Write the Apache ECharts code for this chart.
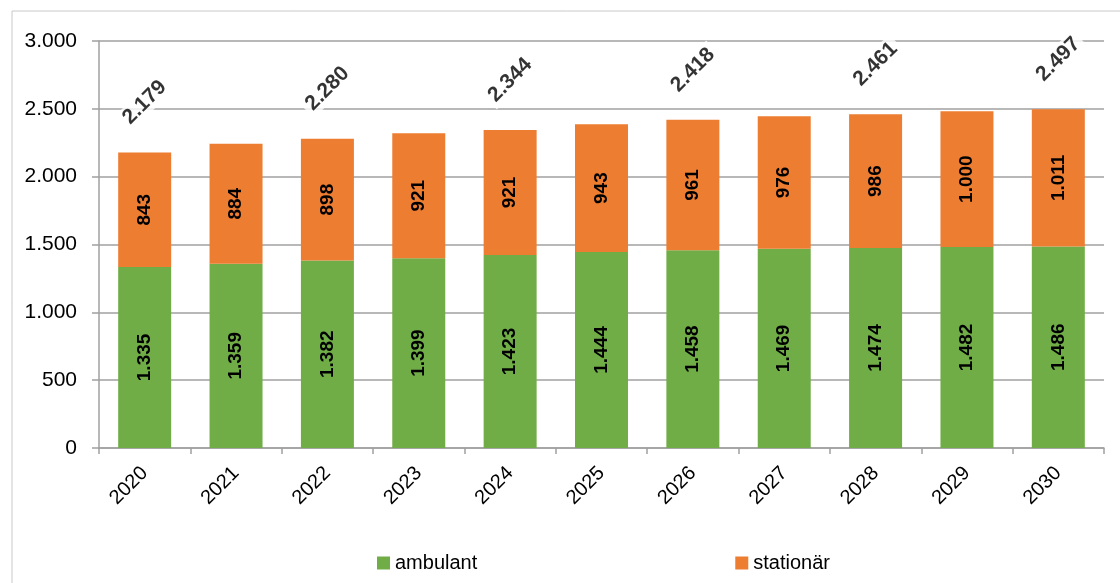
<!DOCTYPE html>
<html><head><meta charset="utf-8">
<script src="https://cdn.jsdelivr.net/npm/echarts@6/dist/echarts.min.js"></script>
<style>html,body{margin:0;padding:0;background:#fff}#c{width:1120px;height:583px}</style>
</head><body><div id="c"></div>
<script>
const categories = ['2020','2021','2022','2023','2024','2025','2026','2027','2028','2029','2030'];
const ambulant = [1335,1359,1382,1399,1423,1444,1458,1469,1474,1482,1486];
const stationaer = [843,884,898,921,921,943,961,976,986,1000,1011];
const totals = [2179,null,2280,null,2344,null,2418,null,2461,null,2497];
const yTicks = [0,500,1000,1500,2000,2500,3000];

function fmt(v){return String(v).replace(/\B(?=(\d{3})+(?!\d))/g,'.');}
const FF = '"Liberation Sans", Arial, sans-serif';
const chart = echarts.init(document.getElementById('c'));
const inLabel = {show:true, position:'inside', rotate:90, color:'#000', fontSize:19, fontWeight:'bold', fontFamily:FF, formatter:p=>fmt(p.value)};
chart.setOption({
  animation:false,
  graphic:[{type:'rect', shape:{x:12,y:11,width:1120,height:600}, style:{fill:'none', stroke:'#c8c8c8', lineWidth:1}, silent:true}],
  grid:{left:99, right:16, top:41, bottom:135},
  legend:{left:372, top:548, itemWidth:13, itemHeight:13, itemGap:258, icon:'rect',
    textStyle:{fontSize:20, fontFamily:FF, color:'#000'},
    data:['ambulant','stationär']},
  xAxis:{type:'category', data:categories, boundaryGap:true,
    axisLine:{lineStyle:{color:'#a0a0a0', width:1.5}},
    axisTick:{show:true, length:6, lineStyle:{color:'#a0a0a0', width:1.5}},
    axisLabel:{rotate:45, fontSize:20, fontFamily:FF, color:'#000', margin:22}},
  yAxis:{type:'value', min:0, max:3000, interval:500,
    axisLine:{show:true, lineStyle:{color:'#a0a0a0', width:1.5}},
    axisTick:{show:true, inside:false, length:7, lineStyle:{color:'#a0a0a0', width:1.5}},
    splitLine:{lineStyle:{color:'#a0a0a0', width:1.5}},
    axisLabel:{fontSize:21, fontFamily:FF, color:'#000', margin:22, formatter:v=>yTicks.includes(v)?fmt(v):''}},
  series:[
    {name:'ambulant', type:'bar', stack:'t', data:ambulant, barWidth:'58%', itemStyle:{color:'#70AD47'}, label:inLabel},
    {name:'stationär', type:'bar', stack:'t', data:stationaer, barWidth:'58%', itemStyle:{color:'#ED7D31'}, label:inLabel},
    {name:'total', type:'scatter', data:totals, symbol:'circle', symbolSize:1, itemStyle:{color:'rgba(0,0,0,0)'}, z:5,
      label:{show:true, position:'top', distance:0, offset:[35,-35], align:'center', verticalAlign:'middle', rotate:45,
        backgroundColor:'#fff', padding:[1,4], color:'#000', fontSize:21, fontWeight:'bold', fontFamily:FF,
        formatter:p=>fmt(p.value)}}
  ]
});
</script></body></html>
